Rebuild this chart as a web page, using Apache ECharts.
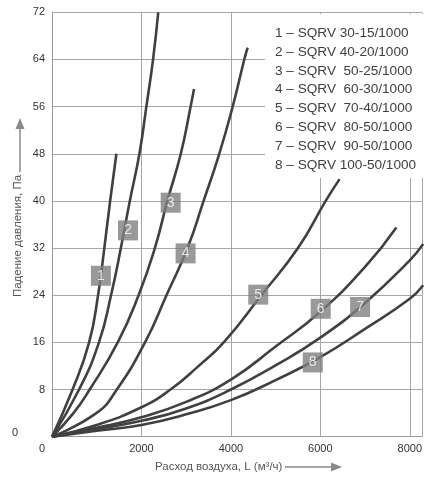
<!DOCTYPE html>
<html>
<head>
<meta charset="utf-8">
<script src="https://cdn.jsdelivr.net/npm/echarts@6/dist/echarts.min.js"></script>
<style>
html,body{margin:0;padding:0;background:#fff;}
#c{width:425px;height:479px;}
</style>
</head>
<body>
<div id="c"></div>
<script>
// Air flow (m3/h) and pressure drop (Pa), per curve
const flow1 = [0, 460, 830, 1030, 1170, 1300, 1440];
const drop1 = [0, 8, 16, 24, 32, 40, 48];
const flow2 = [0, 606, 1050, 1320, 1540, 1740, 1955, 2110, 2260, 2375];
const drop2 = [0, 8, 16, 24, 32, 40, 48, 56, 64, 72];
const flow3 = [0, 480, 843, 1470, 1936, 2300, 2580, 2880, 3100, 3175];
const drop3 = [0, 4, 8, 16, 24, 32, 40, 48, 56, 59];
const flow4 = [0, 990, 1450, 2080, 2560, 3030, 3390, 3740, 4040, 4300, 4375];
const drop4 = [0, 4, 8, 16, 24, 32, 40, 48, 56, 64, 66];
const flow5 = [0, 1000, 2000, 2650, 3250, 3840, 4680, 5500, 6120, 6430];
const drop5 = [0, 2.0, 5.0, 8, 11.8, 16, 24, 32, 40, 43.7];
const flow6 = [0, 1000, 2000, 3000, 4000, 5000, 6000, 7000, 7700];
const drop6 = [0, 1.5, 3.3, 5.9, 9.7, 15.3, 21.2, 28.8, 35.5];
const flow7 = [0, 1000, 2000, 3000, 4000, 5000, 6000, 7000, 8000, 8300];
const drop7 = [0, 1.3, 2.7, 4.8, 8.0, 12.1, 16.8, 22.7, 29.9, 32.7];
const flow8 = [0, 1000, 2000, 3000, 4000, 5000, 6000, 7000, 8000, 8300];
const drop8 = [0, 1.0, 2.0, 3.8, 6.2, 9.6, 13.5, 18.3, 23.4, 25.7];

// Number tags placed on the curves
const tagNames = ['1', '2', '3', '4', '5', '6', '7', '8'];
const tagFlow = [1093, 1700, 2654, 2987, 4612, 6009, 6889, 5831];
const tagDrop = [27.3, 35.0, 39.7, 31.1, 24.1, 21.7, 22.0, 12.6];

// Axis ranges / ticks
const xMax = 8270;
const xStep = 2000;
const yMax = 72;
const yStep = 8;

const legendLines = [
  '1 – SQRV 30-15/1000',
  '2 – SQRV 40-20/1000',
  '3 – SQRV  50-25/1000',
  '4 – SQRV  60-30/1000',
  '5 – SQRV  70-40/1000',
  '6 – SQRV  80-50/1000',
  '7 – SQRV  90-50/1000',
  '8 – SQRV 100-50/1000'
];
const yTitle = 'Падение давления, Па';
const xTitle = 'Расход воздуха, L (м³/ч)';

const flows = [flow1, flow2, flow3, flow4, flow5, flow6, flow7, flow8];
const drops = [drop1, drop2, drop3, drop4, drop5, drop6, drop7, drop8];

const FONT = '"Liberation Sans", Arial, sans-serif';
const chart = echarts.init(document.getElementById('c'), null, {renderer: 'canvas'});

const lineSeries = flows.map((f, i) => ({
  type: 'line',
  data: f.map((x, j) => [x, drops[i][j]]),
  smooth: 0.5,
  showSymbol: false,
  symbol: 'none',
  lineStyle: {color: '#404040', width: 2.6},
  z: 3,
  silent: true
}));

const tagSeries = {
  type: 'scatter',
  data: tagNames.map((n, i) => [tagFlow[i], tagDrop[i], n]),
  symbol: 'rect',
  symbolSize: 20,
  itemStyle: {color: '#808080'},
  label: {
    show: true, position: 'inside',
    formatter: p => p.data[2],
    color: '#fff', fontSize: 14, fontFamily: FONT
  },
  z: 5,
  silent: true
};

const legendEls = [{
  type: 'rect', z: 100,
  shape: {x: 265, y: 14, width: 170, height: 164},
  style: {fill: '#ffffff', stroke: null}
}].concat(legendLines.map((t, i) => ({
  type: 'text', z: 101,
  x: 275, y: 33 + i * 18.9,
  style: {text: t, fill: '#404040', font: '13.6px ' + FONT, verticalAlign: 'middle', align: 'left'}
})));

chart.setOption({
  animation: false,
  grid: {left: 52, top: 12.3, right: 0, bottom: 42.3, containLabel: false},
  xAxis: {
    type: 'value', min: 0, max: xMax, interval: xStep,
    axisLine: {show: true, lineStyle: {color: '#999', width: 1}},
    axisTick: {show: false},
    splitLine: {show: true, lineStyle: {color: '#a6a6a6', width: 1}},
    axisLabel: {
      margin: 7, color: '#333', fontSize: 11, fontFamily: FONT,
      showMaxLabel: true,
      formatter: v => v === 0 ? '{z|0}' : (v % xStep === 0 ? String(v) : ''),
      rich: {z: {padding: [0, 20, 0, 0], color: '#333', fontSize: 11, fontFamily: FONT}}
    }
  },
  yAxis: {
    type: 'value', min: 0, max: yMax, interval: yStep,
    axisLine: {show: true, lineStyle: {color: '#999', width: 1}},
    axisTick: {show: false},
    splitLine: {show: true, lineStyle: {color: '#a6a6a6', width: 1}},
    axisLabel: {
      margin: 7, color: '#333', fontSize: 11, fontFamily: FONT,
      formatter: v => v === 0 ? '{z|0}' : String(v),
      rich: {z: {padding: [0, 27, 8, 0], color: '#333', fontSize: 11, fontFamily: FONT}}
    }
  },
  series: lineSeries.concat([tagSeries]),
  graphic: legendEls.concat([
    {
      type: 'text', x: 18, y: 236, rotation: Math.PI / 2, z: 50,
      style: {text: yTitle, fill: '#555', font: '11.5px ' + FONT, align: 'center', verticalAlign: 'middle'}
    },
    {type: 'line', z: 50, shape: {x1: 20, y1: 172, x2: 20, y2: 126}, style: {stroke: '#8a8a8a', lineWidth: 1.5}},
    {type: 'polygon', z: 50, shape: {points: [[20, 118], [15.5, 129], [24.5, 129]]}, style: {fill: '#8a8a8a'}},
    {
      type: 'text', x: 155, y: 467, z: 50,
      style: {text: xTitle, fill: '#555', font: '11.5px ' + FONT, align: 'left', verticalAlign: 'middle'}
    },
    {type: 'line', z: 50, shape: {x1: 285, y1: 467, x2: 333, y2: 467}, style: {stroke: '#8a8a8a', lineWidth: 1.5}},
    {type: 'polygon', z: 50, shape: {points: [[342, 467], [331, 462.5], [331, 471.5]]}, style: {fill: '#8a8a8a'}}
  ])
});
</script>
</body>
</html>
